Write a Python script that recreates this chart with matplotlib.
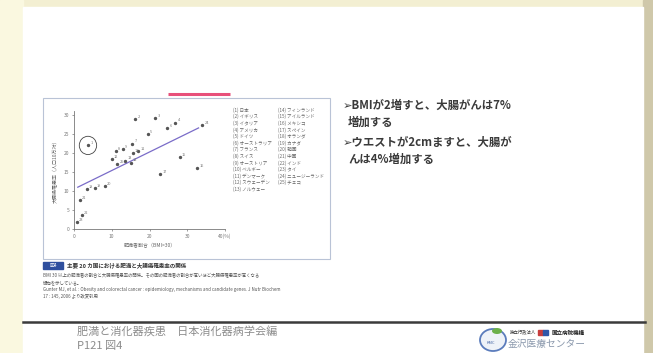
import numpy as np
import matplotlib
matplotlib.use('Agg')
import matplotlib.pyplot as plt
from matplotlib.patches import Rectangle, Ellipse

plt.rcParams['font.family'] = ['Noto Sans CJK JP', 'DejaVu Sans']

W, H = 653, 353

# scatter data (obesity share %, colorectal cancer incidence)
pt_id = [1, 2, 3, 4, 5, 6, 7, 8, 9, 10, 11, 12, 13, 14, 15, 16, 17, 18, 19, 20, 21, 22, 23, 24, 25]
pt_x = [3.7, 16.2, 21.5, 26.8, 19.6, 24.7, 15.4, 11.0, 13.0, 15.5, 17.0, 10.0, 13.5,
        15.0, 28.0, 32.6, 22.8, 3.4, 5.5, 8.2, 1.6, 2.0, 0.8, 34.0, 11.5]
pt_y = [22.0, 29.0, 29.2, 28.0, 25.0, 26.5, 22.5, 20.5, 21.0, 20.0, 20.5, 18.5, 18.0,
        17.5, 19.0, 16.0, 14.5, 10.5, 10.8, 11.2, 7.6, 3.7, 1.8, 27.3, 17.0]
japan = (3.7, 22.0)

# regression line end points
line_x = [1.0, 33.0]
line_y = [11.0, 26.6]

x_ticks = [0, 10, 20, 30, 40]
y_ticks = [0, 5, 10, 15, 20, 25, 30]

legend_left = ['(1) 日本', '(2) イギリス', '(3) イタリア', '(4) アメリカ', '(5) ドイツ',
               '(6) オーストラリア', '(7) フランス', '(8) スイス', '(9) オーストリア',
               '(10) ベルギー', '(11) デンマーク', '(12) スウェーデン', '(13) ノルウェー']
legend_right = ['(14) フィンランド', '(15) アイルランド', '(16) メキシコ', '(17) スペイン',
                '(18) オランダ', '(19) カナダ', '(20) 韓国', '(21) 中国', '(22) インド',
                '(23) タイ', '(24) ニュージーランド', '(25) チェコ']

bullets = [('➢BMIが2増すと、大腸がんは7%', 343, 105),
           ('増加する', 348, 122),
           ('➢ウエストが2cmますと、大腸が', 343, 142),
           ('んは4%増加する', 348, 159)]

caption_title = '主要 20 カ国における肥満と大腸癌罹患率の関係'
caption_lines = ['BMI 30 以上の肥満者の割合と大腸癌罹患率の関係。その国の肥満者の割合が高いほど大腸癌罹患率が高くなる',
                 '傾向を示している。',
                 'Gunter MJ, et al. : Obesity and colorectal cancer : epidemiology, mechanisms and candidate genes. J Nutr Biochem',
                 '17 : 145, 2006 より改変引用']

footer_1 = '肥満と消化器疾患　日本消化器病学会編'
footer_2 = 'P121 図4'

fig = plt.figure(figsize=(W / 100, H / 100), dpi=100)
fig.patch.set_facecolor('#f3efd2')

bg = fig.add_axes([0, 0, 1, 1])
bg.set_xlim(0, W)
bg.set_ylim(H, 0)
bg.axis('off')

# slide border / shadow
bg.add_patch(Rectangle((0, 0), 23, H, color='#faf8e0', zorder=0))
bg.add_patch(Rectangle((643, 0), 10, H, color='#cfc8aa', zorder=0))
bg.add_patch(Rectangle((23, 7), 620, H - 7, color='white', zorder=1))

# pink accent line
bg.plot([168, 230], [94, 94], color='#e8507a', lw=2.2, solid_capstyle='butt', zorder=2)

# figure frame
bg.add_patch(Rectangle((43, 98), 287, 161, fill=False, ec='#b9c3d6', lw=0.8, zorder=2))

# legend of countries
for i, name in enumerate(legend_left):
    bg.text(233, 110 + i * 6.6, name, fontsize=3.3, color='#666', va='center', zorder=3)
for i, name in enumerate(legend_right):
    bg.text(278, 110 + i * 6.6, name, fontsize=3.3, color='#666', va='center', zorder=3)

# caption
bg.add_patch(Rectangle((43, 262), 20, 7, color='#2f4f9e', zorder=3))
bg.text(53, 265.5, '図4', fontsize=3.5, color='white', ha='center', va='center', zorder=4)
bg.text(67, 265.5, caption_title, fontsize=4, color='#333', va='center', weight='bold', zorder=3)
for i, line in enumerate(caption_lines):
    bg.text(43, 275 + i * 7.3, line, fontsize=3.2, color='#555', va='center', zorder=3)

# bullet text
for txt, x, y in bullets:
    bg.text(x, y, txt, fontsize=8.2, color='#3a3a3a', weight='bold', va='center', zorder=3)

# footer
bg.plot([23, 645], [322, 322], color='#3b3b3b', lw=1.8, zorder=3)
bg.text(77, 332, footer_1, fontsize=8, color='#8c8c8c', va='center', zorder=3)
bg.text(77, 346, footer_2, fontsize=8, color='#8c8c8c', va='center', zorder=3)

# logo
bg.add_patch(Ellipse((493, 340), 26, 22, fc='#eef2f8', ec='#5b7cbc', lw=1.3, zorder=3))
bg.add_patch(Ellipse((497, 331), 10, 6, fc='#6cb04a', ec='none', zorder=4))
bg.text(491, 343, 'KMC', fontsize=3, color='#4a6aa8', ha='center', va='center', zorder=4)
bg.text(510, 333, '独立行政法人', fontsize=3.2, color='#333', va='center', zorder=3)
bg.add_patch(Rectangle((538, 330), 5, 5, color='#c83c3c', zorder=3))
bg.add_patch(Rectangle((543, 330), 5, 5, color='#2f56a8', zorder=3))
bg.text(552, 333, '国立病院機構', fontsize=4, color='#222', weight='bold', va='center', zorder=3)
bg.text(508, 344, '金沢医療センター', fontsize=7, color='#8a98ac', va='center', zorder=3)

# scatter plot
x0, x1 = 74, 225
yb, yt = 229, 229 - 31 * 3.8
ax = fig.add_axes([x0 / W, 1 - yb / H, (x1 - x0) / W, (yb - yt) / H])
ax.set_facecolor('none')
ax.set_xlim(0, 40)
ax.set_ylim(0, 31)
for s in ['top', 'right']:
    ax.spines[s].set_visible(False)
for s in ['left', 'bottom']:
    ax.spines[s].set_color('#777')
    ax.spines[s].set_linewidth(0.6)
ax.set_xticks(x_ticks)
ax.set_yticks(y_ticks)
ax.set_xticklabels([str(t) if t != 40 else '40(%)' for t in x_ticks])
ax.tick_params(labelsize=3.5, colors='#777', length=1.5, width=0.5, pad=2)
ax.set_xlabel('肥満者割合（BMI>30）', fontsize=3.6, color='#666', labelpad=3)
ax.set_ylabel('大腸癌罹患率（人口10万対）', fontsize=3.6, color='#666', labelpad=4)

ax.plot(line_x, line_y, color='#7a6cc8', lw=0.9)
ax.scatter(pt_x, pt_y, s=2, color='#555', zorder=3)
for i, x, y in zip(pt_id, pt_x, pt_y):
    ax.text(x + 0.6, y + 0.3, str(i), fontsize=2.8, color='#777')
ax.add_patch(Ellipse(japan, 4.6, 4.8, fill=False, ec='#444', lw=0.6))

fig.savefig('out.png', dpi=100)
